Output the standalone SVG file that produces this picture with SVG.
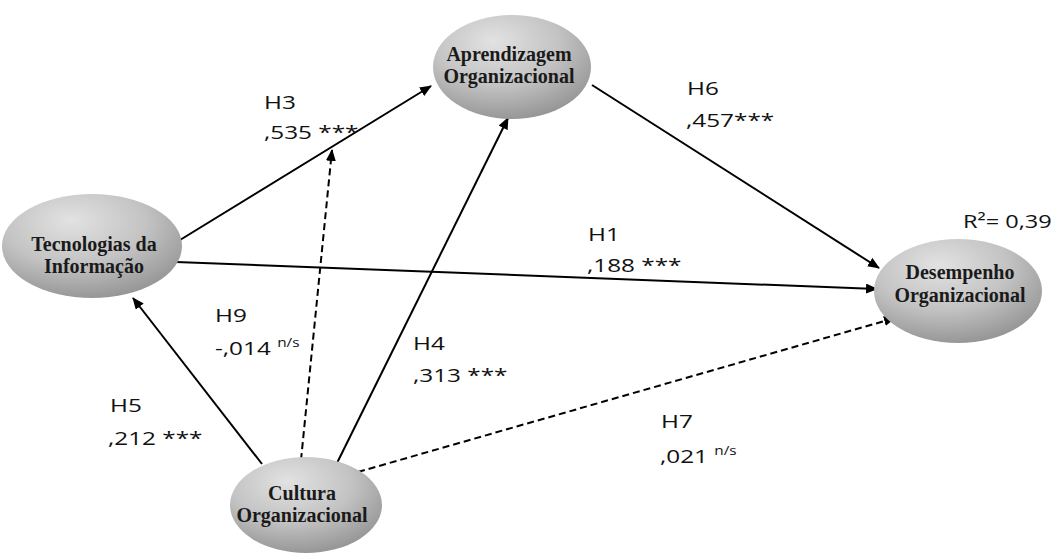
<svg xmlns="http://www.w3.org/2000/svg" width="1060" height="553" viewBox="0 0 1060 553">
  <defs>
    <radialGradient id="nodeFill" cx="0.42" cy="0.3" r="0.8" fx="0.38" fy="0.25">
      <stop offset="0" stop-color="#e2e2e2"/>
      <stop offset="0.5" stop-color="#c3c3c3"/>
      <stop offset="1" stop-color="#8a8a8a"/>
    </radialGradient>
    <marker id="head" viewBox="0 0 12 10" refX="11" refY="5" markerWidth="12" markerHeight="10" markerUnits="userSpaceOnUse" orient="auto">
      <path d="M0,0 L12,5 L0,10 Z" fill="#000"/>
    </marker>
    <style>
      .node ellipse { fill: url(#nodeFill); }
      .node text { font-family: "Liberation Serif", "Times New Roman", serif; font-weight: bold; font-size: 20px; fill: #1a1a1a; text-anchor: middle; }
      .edge { stroke: #000; stroke-width: 2; fill: none; marker-end: url(#head); }
      .dash { stroke-dasharray: 7 4; }
      .lbl { font-family: "Open Sans", "Liberation Sans", sans-serif; font-size: 19px; fill: #111; }
      .sup { font-size: 12px; }
    </style>
  </defs>

  <g id="connectors">
    <!-- H3: Tecnologias -> Aprendizagem -->
    <line class="edge" x1="180" y1="240" x2="431" y2="86"/>
    <!-- H6: Aprendizagem -> Desempenho -->
    <line class="edge" x1="592" y1="85" x2="879" y2="268"/>
    <!-- H1: Tecnologias -> Desempenho -->
    <line class="edge" x1="176" y1="262" x2="877" y2="289"/>
    <!-- H5: Cultura -> Tecnologias -->
    <line class="edge" x1="262" y1="464" x2="133" y2="298"/>
    <!-- H9: Cultura -> H3 path (dashed) -->
    <line class="edge dash" x1="301" y1="460" x2="332" y2="150"/>
    <!-- H4: Cultura -> Aprendizagem -->
    <line class="edge" x1="337" y1="463" x2="508" y2="118"/>
    <!-- H7: Cultura -> Desempenho (dashed) -->
    <line class="edge dash" x1="358" y1="472" x2="895" y2="318"/>
  </g>

  <g id="node-aprendizagem" class="node">
    <ellipse cx="512" cy="67" rx="79" ry="52"/>
    <text x="509" y="61">Aprendizagem</text>
    <text x="509" y="83">Organizacional</text>
  </g>

  <g id="node-tecnologias" class="node">
    <ellipse cx="92" cy="246" rx="90" ry="52"/>
    <text x="94" y="251">Tecnologias da</text>
    <text x="94" y="273">Informação</text>
  </g>

  <g id="node-desempenho" class="node">
    <ellipse cx="958" cy="291" rx="84" ry="52"/>
    <text x="960" y="279">Desempenho</text>
    <text x="960" y="302">Organizacional</text>
  </g>

  <g id="node-cultura" class="node">
    <ellipse cx="306" cy="505" rx="76" ry="48"/>
    <text x="302" y="500">Cultura</text>
    <text x="302" y="522">Organizacional</text>
  </g>

  <g id="labels">
    <text class="lbl" transform="translate(264,109) scale(1.28,1)">H3</text>
    <text class="lbl" transform="translate(264,139) scale(1.28,1)">,535 ***</text>

    <text class="lbl" transform="translate(687,95) scale(1.28,1)">H6</text>
    <text class="lbl" transform="translate(686,127) scale(1.28,1)">,457***</text>

    <text class="lbl" transform="translate(588,241) scale(1.28,1)">H1</text>
    <text class="lbl" transform="translate(587,272) scale(1.28,1)">,188 ***</text>

    <text class="lbl" transform="translate(215,322) scale(1.28,1)">H9</text>
    <text class="lbl" transform="translate(215,355) scale(1.28,1)">-,014 <tspan class="sup" dy="-8">n/s</tspan></text>

    <text class="lbl" transform="translate(413,350) scale(1.28,1)">H4</text>
    <text class="lbl" transform="translate(413,382) scale(1.28,1)">,313 ***</text>

    <text class="lbl" transform="translate(110,412) scale(1.28,1)">H5</text>
    <text class="lbl" transform="translate(108,445) scale(1.28,1)">,212 ***</text>

    <text class="lbl" transform="translate(661,428) scale(1.28,1)">H7</text>
    <text class="lbl" transform="translate(660,463) scale(1.28,1)">,021 <tspan class="sup" dy="-8">n/s</tspan></text>

    <text class="lbl" font-size="21" transform="translate(963,228) scale(1.24,1)">R²= 0,39</text>
  </g>
</svg>
